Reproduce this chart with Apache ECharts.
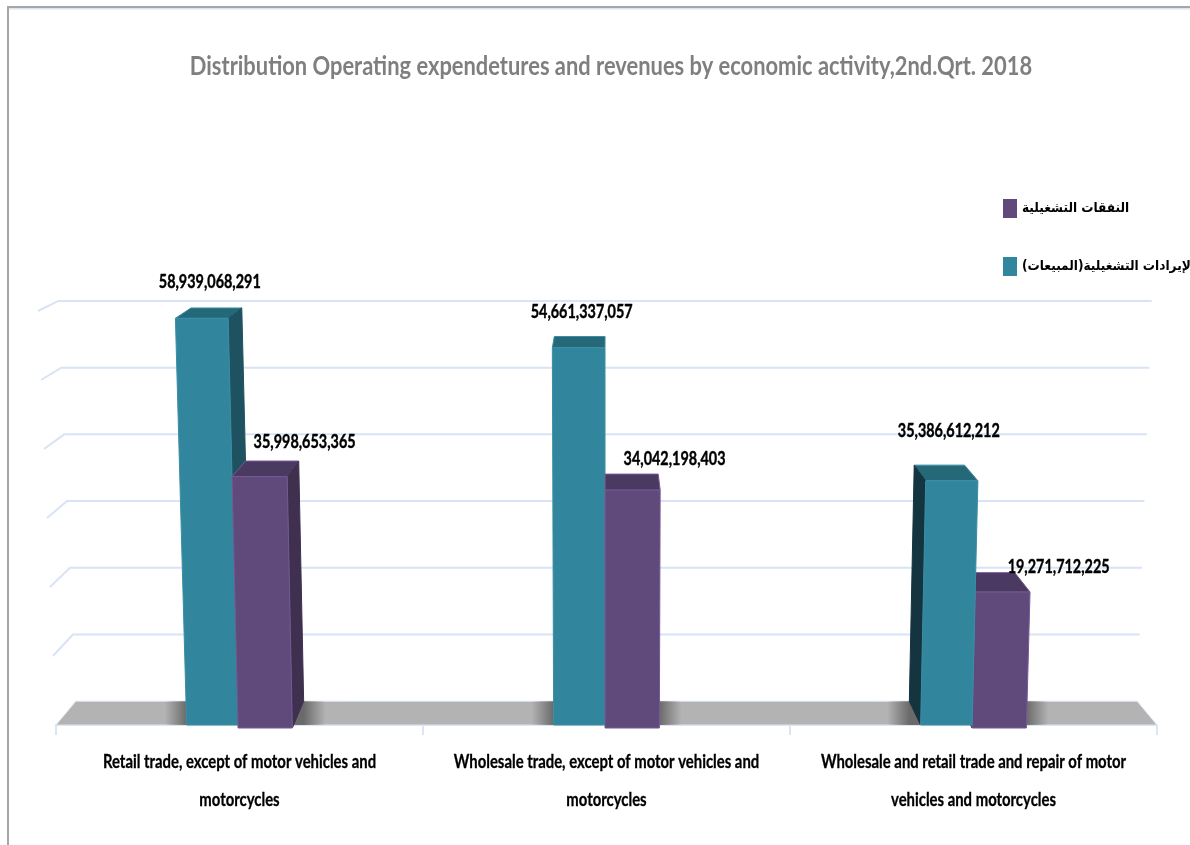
<!DOCTYPE html>
<html><head><meta charset="utf-8">
<style>html,body{margin:0;padding:0;background:#fff}#c{width:1190px;height:845px}</style>
<script src="https://cdn.jsdelivr.net/npm/echarts@6/dist/echarts.min.js"></script>
</head><body><div id="c"></div>
<script>
const categories = [
  'Retail trade, except of motor vehicles and\nmotorcycles',
  'Wholesale trade, except of motor vehicles and\nmotorcycles',
  'Wholesale and retail trade and repair of motor\nvehicles and motorcycles'
];
const revenues = [58939068291, 54661337057, 35386612212];
const expenditures = [35998653365, 34042198403, 19271712225];
const gridTicks = [10e9, 20e9, 30e9, 40e9, 50e9, 60e9];
const titleText = 'Distribution Operating expendetures and revenues by economic activity,2nd.Qrt. 2018';
const revenueName = 'الإيرادات التشغيلية(المبيعات)\u200f';
const expenseName = 'النفقات التشغيلية';

const FONT = 'Lato,"Liberation Sans",sans-serif';
const TEAL = {front:'#31859c', top:'#256878', right:'#1f5261', left:'#14343f', rim:'#3a8ea6', drop:0, shadow:'left'};
const PURPLE = {front:'#604a7b', top:'#4a3960', right:'#3f3050', left:'#3f3050', rim:'#745a94', drop:3, shadow:'right'};
const revLabelShift = [[8,-36],[3,-36],[-3,-50]];
const expLabelShift = [[45,-34],[42,-31],[56,-25]];

const VP_Y = 5, KX = 0.036, KY = 0.033;
function lean(p, cs, amt){
  const base = cs.y + cs.height, t = (base - p[1]) / cs.height, u = (p[0] - cs.x) / cs.width;
  return [p[0] + t * amt * (2 * u - 1), p[1]];
}
function back(p, cs){
  const vx = cs.x + cs.width / 2;
  return [p[0] + KX * (vx - p[0]), p[1] + KY * (VP_Y - p[1])];
}
function barSeries(name, values, from, to, col, shifts){
  return {
    name, type:'custom', coordinateSystem:'cartesian2d', z:5,
    itemStyle:{color:col.front},
    data: values.map((v,i)=>[i,v]),
    renderItem(params, api){
      const cs = params.coordSys, i = api.value(0), v = api.value(1);
      const c0 = api.coord([i,0]), c1 = api.coord([i,v]), w = api.size([1,0])[0];
      const x0 = c0[0] + from*w, x1 = c0[0] + to*w;
      const bl = [x0, c0[1] + col.drop], br = [x1, c0[1] + col.drop];
      const tl = lean([x0, c1[1]], cs, 15), tr = lean([x1, c1[1]], cs, 15);
      const btl = back(tl, cs), btr = back(tr, cs), bbl = back([x0,c0[1]], cs), bbr = back([x1,c0[1]], cs);
      const depth = 1000 - Math.abs((x0+x1)/2 - (cs.x + cs.width/2));
      const poly = (points, fill, stroke) => ({type:'polygon', z2:depth, shape:{points},
        style:{fill, stroke: stroke || fill, lineWidth:1, lineJoin:'round'}});
      const kids = [];
      const D = 'rgba(100,100,100,0.92)', C = 'rgba(100,100,100,0)', fade = 22;
      if (col.shadow === 'left') {
        const outer = Math.min(x0, bbl[0]) - fade, wd = x0 - outer;
        kids.push({type:'rect', z2:1, shape:{x:outer,y:bbl[1],width:wd,height:c0[1]-bbl[1]},
          style:{fill:new echarts.graphic.LinearGradient(0,0,1,0,[{offset:0,color:C},{offset:fade/wd,color:D},{offset:1,color:D}])}});
      } else {
        const outer = Math.max(x1, bbr[0]) + fade, wd = outer - x1;
        kids.push({type:'rect', z2:1, shape:{x:x1,y:bbr[1],width:wd,height:c0[1]-bbr[1]},
          style:{fill:new echarts.graphic.LinearGradient(0,0,1,0,[{offset:0,color:D},{offset:1-fade/wd,color:D},{offset:1,color:C}])}});
      }
      kids.push(poly([tl,tr,btr,btl], col.top, col.rim));
      if (btr[0] > tr[0] + 1) kids.push(poly([tr,btr,bbr,br], col.right));
      if (btl[0] < tl[0] - 1) kids.push(poly([tl,btl,bbl,bl], col.left));
      kids.push(poly([tl,tr,br,bl], col.front, col.rim));
      const s = shifts[i];
      kids.push({type:'text', z2:5000, x:(tl[0]+tr[0])/2 + s[0], y:tl[1] + s[1], scaleX:0.80, style:{
        text: v.toLocaleString('en-US'), x:0, y:0,
        align:'center', verticalAlign:'middle',
        fill:'#000', stroke:'#000', lineWidth:0.4, font:'bold 18px '+FONT}});
      return {type:'group', children:kids};
    }
  };
}

const option = {
  animation:false,
  backgroundColor:'#fff',
  legend:{orient:'vertical', left:998, top:194, itemWidth:14, itemHeight:19, itemGap:39,
    data:[{name:expenseName},{name:revenueName}],
    selectedMode:false, icon:'rect',
    textStyle:{fontFamily:'"DejaVu Sans Condensed","DejaVu Sans",sans-serif', fontWeight:'bold', fontSize:13.5, color:'#000'}},
  grid:{left:56, right:33, top:311, bottom:120},
  xAxis:{type:'category', data:categories, boundaryGap:true,
    axisLine:{lineStyle:{color:'#dce6f2', width:2}},
    axisTick:{show:true, length:10, lineStyle:{color:'#dce6f2', width:2}},
    axisLabel:{show:false}},
  yAxis:{type:'value', min:0, max:60e9, interval:10e9, axisLine:{show:false}, axisTick:{show:false},
    axisLabel:{show:false}, splitLine:{show:false}},
  graphic:[
    {type:'rect', silent:true, shape:{x:7,y:6,width:2,height:839}, style:{fill:'#a6a6a6'}},
    {type:'rect', silent:true, shape:{x:7,y:6,width:1183,height:2}, style:{fill:'#a6a6a6'}},
    {type:'rect', silent:true, shape:{x:9,y:8,width:1181,height:1.5}, style:{fill:'#dce6f2'}},
    {type:'text', silent:true, x:611, y:66, scaleX:0.811, style:{text:titleText, x:0, y:0, align:'center', verticalAlign:'middle',
      fill:'#7f7f7f', font:'bold 27px '+FONT}}
  ],
  series:[
    {name:'wall', type:'custom', z:1, silent:true,
     data:gridTicks.map(t=>[0,t]),
     renderItem(params, api){
       const cs = params.coordSys, y = api.coord([0,api.value(1)])[1];
       const fl = lean([cs.x,y],cs,18), fr = lean([cs.x+cs.width,y],cs,15);
       const bl = back(fl,cs), br = back(fr,cs);
       return {type:'polyline', shape:{points:[fl,bl,br]}, style:{fill:'none', stroke:'#d8e4f5', lineWidth:2}};
     }},
    {name:'floor', type:'custom', z:2, silent:true,
     data:[[0,0]],
     renderItem(params, api){
       const cs = params.coordSys, y = api.coord([0,0])[1];
       const fl=[cs.x,y], fr=[cs.x+cs.width,y], bl=back(fl,cs), br=back(fr,cs);
       return {type:'polygon', shape:{points:[fl,fr,br,bl]}, style:{fill:'#b3b3b3', stroke:'#dce6f2', lineWidth:1}};
     }},
    {name:'categoryLabels', type:'custom', z:6, silent:true,
     data:categories.map((c,i)=>[i,0]),
     renderItem(params, api){
       const i = api.value(0), p = api.coord([i,0]);
       return {type:'text', x:p[0], y:p[1]+56, scaleX:0.826, style:{text:categories[i], x:0, y:0,
         align:'center', verticalAlign:'middle', lineHeight:38, fill:'#000', stroke:'#000', lineWidth:0.3, font:'bold 18px '+FONT}};
     }},
    barSeries(revenueName, revenues, -0.144, -0.004, TEAL, revLabelShift),
    barSeries(expenseName, expenditures, -0.004, 0.144, PURPLE, expLabelShift)
  ]
};
const chart = echarts.init(document.getElementById('c'), null, {renderer:'canvas'});
chart.setOption(option);
</script></body></html>
